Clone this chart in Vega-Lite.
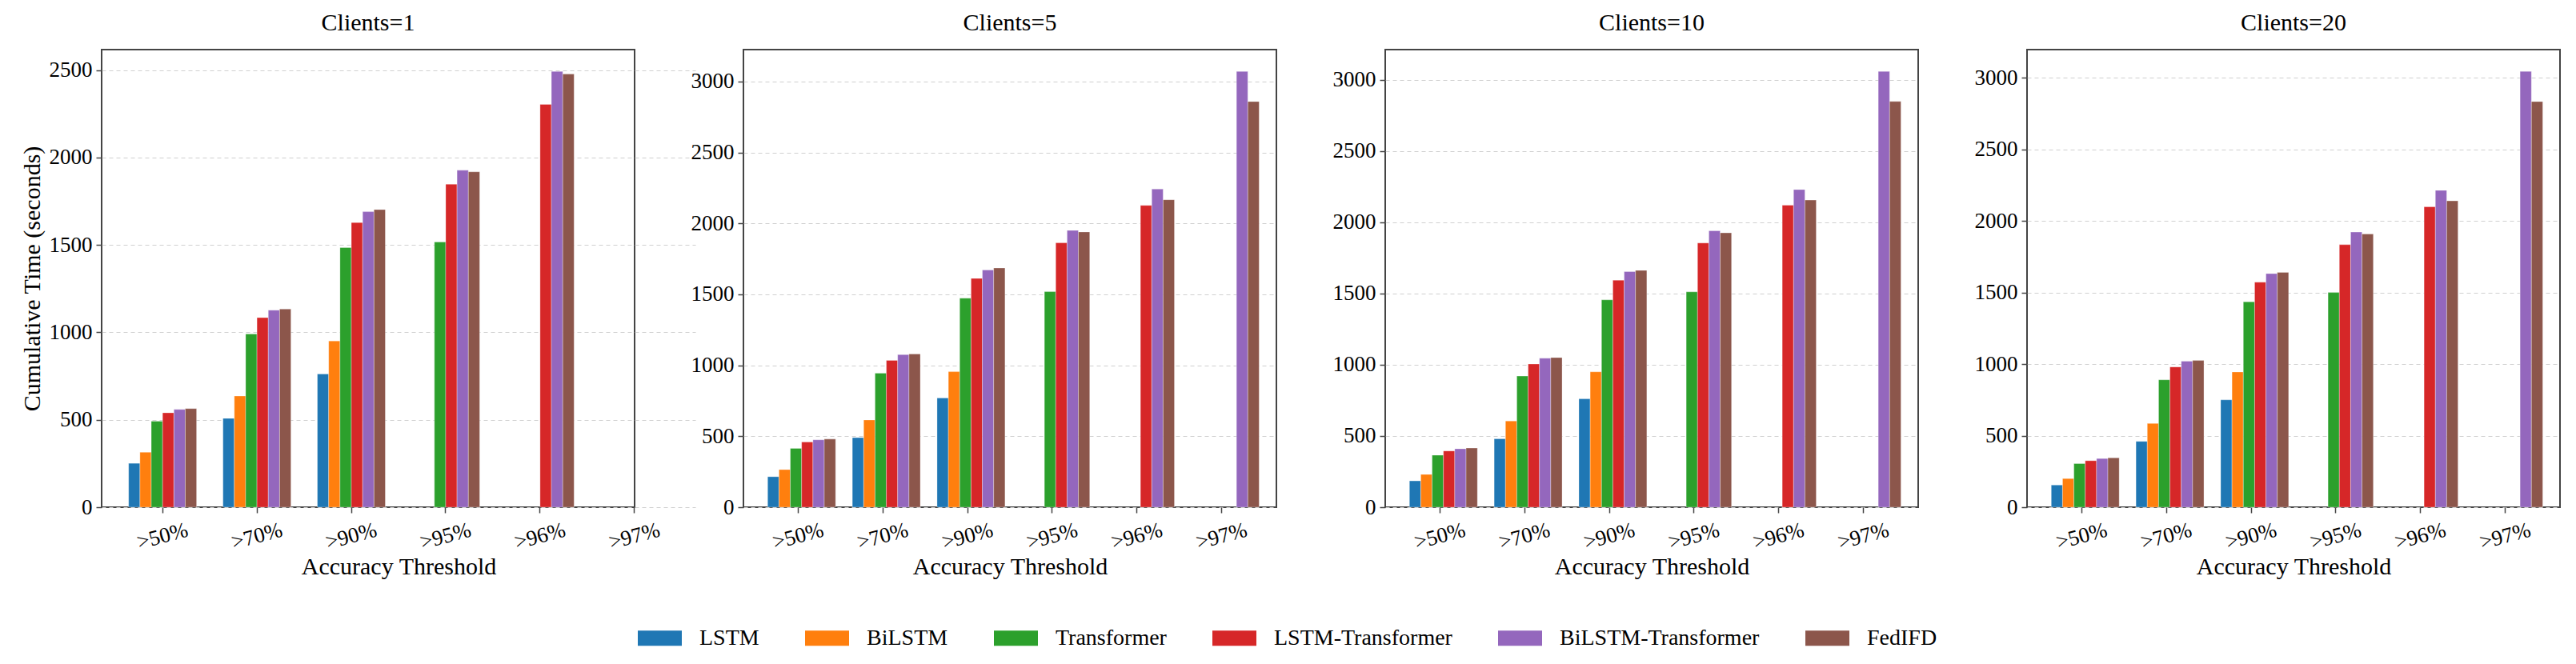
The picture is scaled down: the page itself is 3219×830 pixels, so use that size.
{
"$schema": "https://vega.github.io/schema/vega-lite/v6.json",
"background": "white",
"padding": {"left": 24, "top": 13, "right": 5, "bottom": 0},
"datasets": {"d": [
{"c":"Clients=1","t":">50%","m":"LSTM","v":251},{"c":"Clients=1","t":">50%","m":"BiLSTM","v":314},{"c":"Clients=1","t":">50%","m":"Transformer","v":492},{"c":"Clients=1","t":">50%","m":"LSTM-Transformer","v":540},{"c":"Clients=1","t":">50%","m":"BiLSTM-Transformer","v":559},{"c":"Clients=1","t":">50%","m":"FedIFD","v":564},
{"c":"Clients=1","t":">70%","m":"LSTM","v":508},{"c":"Clients=1","t":">70%","m":"BiLSTM","v":636},{"c":"Clients=1","t":">70%","m":"Transformer","v":991},{"c":"Clients=1","t":">70%","m":"LSTM-Transformer","v":1084},{"c":"Clients=1","t":">70%","m":"BiLSTM-Transformer","v":1127},{"c":"Clients=1","t":">70%","m":"FedIFD","v":1133},
{"c":"Clients=1","t":">90%","m":"LSTM","v":762},{"c":"Clients=1","t":">90%","m":"BiLSTM","v":951},{"c":"Clients=1","t":">90%","m":"Transformer","v":1485},{"c":"Clients=1","t":">90%","m":"LSTM-Transformer","v":1628},{"c":"Clients=1","t":">90%","m":"BiLSTM-Transformer","v":1690},{"c":"Clients=1","t":">90%","m":"FedIFD","v":1702},
{"c":"Clients=1","t":">95%","m":"Transformer","v":1517},{"c":"Clients=1","t":">95%","m":"LSTM-Transformer","v":1847},{"c":"Clients=1","t":">95%","m":"BiLSTM-Transformer","v":1927},{"c":"Clients=1","t":">95%","m":"FedIFD","v":1918},
{"c":"Clients=1","t":">96%","m":"LSTM-Transformer","v":2304},{"c":"Clients=1","t":">96%","m":"BiLSTM-Transformer","v":2492},{"c":"Clients=1","t":">96%","m":"FedIFD","v":2477},
{"c":"Clients=5","t":">50%","m":"LSTM","v":215},{"c":"Clients=5","t":">50%","m":"BiLSTM","v":265},{"c":"Clients=5","t":">50%","m":"Transformer","v":415},{"c":"Clients=5","t":">50%","m":"LSTM-Transformer","v":460},{"c":"Clients=5","t":">50%","m":"BiLSTM-Transformer","v":475},{"c":"Clients=5","t":">50%","m":"FedIFD","v":480},
{"c":"Clients=5","t":">70%","m":"LSTM","v":490},{"c":"Clients=5","t":">70%","m":"BiLSTM","v":615},{"c":"Clients=5","t":">70%","m":"Transformer","v":945},{"c":"Clients=5","t":">70%","m":"LSTM-Transformer","v":1035},{"c":"Clients=5","t":">70%","m":"BiLSTM-Transformer","v":1075},{"c":"Clients=5","t":">70%","m":"FedIFD","v":1080},
{"c":"Clients=5","t":">90%","m":"LSTM","v":770},{"c":"Clients=5","t":">90%","m":"BiLSTM","v":955},{"c":"Clients=5","t":">90%","m":"Transformer","v":1473},{"c":"Clients=5","t":">90%","m":"LSTM-Transformer","v":1612},{"c":"Clients=5","t":">90%","m":"BiLSTM-Transformer","v":1672},{"c":"Clients=5","t":">90%","m":"FedIFD","v":1686},
{"c":"Clients=5","t":">95%","m":"Transformer","v":1519},{"c":"Clients=5","t":">95%","m":"LSTM-Transformer","v":1863},{"c":"Clients=5","t":">95%","m":"BiLSTM-Transformer","v":1951},{"c":"Clients=5","t":">95%","m":"FedIFD","v":1940},
{"c":"Clients=5","t":">96%","m":"LSTM-Transformer","v":2127},{"c":"Clients=5","t":">96%","m":"BiLSTM-Transformer","v":2242},{"c":"Clients=5","t":">96%","m":"FedIFD","v":2167},
{"c":"Clients=5","t":">97%","m":"BiLSTM-Transformer","v":3071},{"c":"Clients=5","t":">97%","m":"FedIFD","v":2859},
{"c":"Clients=10","t":">50%","m":"LSTM","v":185},{"c":"Clients=10","t":">50%","m":"BiLSTM","v":230},{"c":"Clients=10","t":">50%","m":"Transformer","v":365},{"c":"Clients=10","t":">50%","m":"LSTM-Transformer","v":395},{"c":"Clients=10","t":">50%","m":"BiLSTM-Transformer","v":410},{"c":"Clients=10","t":">50%","m":"FedIFD","v":415},
{"c":"Clients=10","t":">70%","m":"LSTM","v":480},{"c":"Clients=10","t":">70%","m":"BiLSTM","v":605},{"c":"Clients=10","t":">70%","m":"Transformer","v":920},{"c":"Clients=10","t":">70%","m":"LSTM-Transformer","v":1005},{"c":"Clients=10","t":">70%","m":"BiLSTM-Transformer","v":1045},{"c":"Clients=10","t":">70%","m":"FedIFD","v":1050},
{"c":"Clients=10","t":">90%","m":"LSTM","v":760},{"c":"Clients=10","t":">90%","m":"BiLSTM","v":950},{"c":"Clients=10","t":">90%","m":"Transformer","v":1455},{"c":"Clients=10","t":">90%","m":"LSTM-Transformer","v":1593},{"c":"Clients=10","t":">90%","m":"BiLSTM-Transformer","v":1653},{"c":"Clients=10","t":">90%","m":"FedIFD","v":1662},
{"c":"Clients=10","t":">95%","m":"Transformer","v":1511},{"c":"Clients=10","t":">95%","m":"LSTM-Transformer","v":1854},{"c":"Clients=10","t":">95%","m":"BiLSTM-Transformer","v":1940},{"c":"Clients=10","t":">95%","m":"FedIFD","v":1925},
{"c":"Clients=10","t":">96%","m":"LSTM-Transformer","v":2119},{"c":"Clients=10","t":">96%","m":"BiLSTM-Transformer","v":2229},{"c":"Clients=10","t":">96%","m":"FedIFD","v":2155},
{"c":"Clients=10","t":">97%","m":"BiLSTM-Transformer","v":3058},{"c":"Clients=10","t":">97%","m":"FedIFD","v":2847},
{"c":"Clients=20","t":">50%","m":"LSTM","v":155},{"c":"Clients=20","t":">50%","m":"BiLSTM","v":200},{"c":"Clients=20","t":">50%","m":"Transformer","v":305},{"c":"Clients=20","t":">50%","m":"LSTM-Transformer","v":325},{"c":"Clients=20","t":">50%","m":"BiLSTM-Transformer","v":340},{"c":"Clients=20","t":">50%","m":"FedIFD","v":345},
{"c":"Clients=20","t":">70%","m":"LSTM","v":460},{"c":"Clients=20","t":">70%","m":"BiLSTM","v":585},{"c":"Clients=20","t":">70%","m":"Transformer","v":890},{"c":"Clients=20","t":">70%","m":"LSTM-Transformer","v":980},{"c":"Clients=20","t":">70%","m":"BiLSTM-Transformer","v":1020},{"c":"Clients=20","t":">70%","m":"FedIFD","v":1025},
{"c":"Clients=20","t":">90%","m":"LSTM","v":750},{"c":"Clients=20","t":">90%","m":"BiLSTM","v":945},{"c":"Clients=20","t":">90%","m":"Transformer","v":1435},{"c":"Clients=20","t":">90%","m":"LSTM-Transformer","v":1572},{"c":"Clients=20","t":">90%","m":"BiLSTM-Transformer","v":1632},{"c":"Clients=20","t":">90%","m":"FedIFD","v":1641},
{"c":"Clients=20","t":">95%","m":"Transformer","v":1500},{"c":"Clients=20","t":">95%","m":"LSTM-Transformer","v":1834},{"c":"Clients=20","t":">95%","m":"BiLSTM-Transformer","v":1922},{"c":"Clients=20","t":">95%","m":"FedIFD","v":1909},
{"c":"Clients=20","t":">96%","m":"LSTM-Transformer","v":2099},{"c":"Clients=20","t":">96%","m":"BiLSTM-Transformer","v":2214},{"c":"Clients=20","t":">96%","m":"FedIFD","v":2140},
{"c":"Clients=20","t":">97%","m":"BiLSTM-Transformer","v":3045},{"c":"Clients=20","t":">97%","m":"FedIFD","v":2834}
]},
"config": {
  "font": "Liberation Serif",
  "view": {"stroke": "#444444", "strokeWidth": 2},
  "axis": {"labelFont": "Liberation Serif", "titleFont": "Liberation Serif", "labelFontSize": 27, "titleFontSize": 30, "titleFontWeight": "normal", "labelColor": "black", "titleColor": "black", "domain": false, "tickColor": "#444444", "tickSize": 7, "tickWidth": 1.5},
  "axisY": {"grid": true, "gridDash": [5, 4], "gridColor": "#d0d0d0", "gridWidth": 1.2, "labelPadding": 5, "titlePadding": 6, "format": "d"},
  "axisX": {"grid": false, "labelAngle": -15, "labelAlign": "center", "labelBaseline": "middle", "labelPadding": 29, "titlePadding": 3},
  "title": {"font": "Liberation Serif", "fontSize": 30, "fontWeight": "normal", "color": "black", "frame": "group", "anchor": "middle", "baseline": "alphabetic", "offset": 18},
  "legend": {"orient": "none", "legendX": 670, "legendY": 708, "direction": "horizontal", "title": null, "labelFont": "Liberation Serif", "labelFontSize": 28, "labelColor": "black", "labelLimit": 0, "symbolType": "M-1,-0.345H1V0.345H-1Z", "symbolSize": 3025, "symbolStrokeWidth": 0, "labelOffset": 22, "columnPadding": 57, "padding": 0}
},
"bounds": "flush",
"spacing": 136,
"hconcat": [
{
 "title": "Clients=1", "width": 666, "height": 572,
 "data": {"name": "d"},
 "transform": [{"filter": "datum.c === 'Clients=1'"}],
 "mark": {"type": "bar", "stroke": "white", "strokeWidth": 0.8, "strokeOpacity": 0.4},
 "encoding": {
  "x": {"field": "t", "type": "nominal", "scale": {"domain": [">50%", ">70%", ">90%", ">95%", ">96%", ">97%"], "paddingInner": 0.28, "paddingOuter": 0.286, "range": [0, 742]}, "axis": {"title": "Accuracy Threshold"}},
  "xOffset": {"field": "m", "type": "nominal", "scale": {"domain": ["LSTM", "BiLSTM", "Transformer", "LSTM-Transformer", "BiLSTM-Transformer", "FedIFD"], "paddingInner": 0, "paddingOuter": 0}},
  "y": {"field": "v", "type": "quantitative", "scale": {"domain": [0, 2617], "nice": false}, "axis": {"title": "Cumulative Time (seconds)", "values": [0, 500, 1000, 1500, 2000, 2500]}},
  "color": {"field": "m", "type": "nominal", "scale": {"domain": ["LSTM", "BiLSTM", "Transformer", "LSTM-Transformer", "BiLSTM-Transformer", "FedIFD"], "range": ["#1f77b4", "#ff7f0e", "#2ca02c", "#d62728", "#9467bd", "#8c564b"]}}
 }
},
{
 "title": "Clients=5", "width": 666, "height": 572,
 "data": {"name": "d"},
 "transform": [{"filter": "datum.c === 'Clients=5'"}],
 "mark": {"type": "bar", "stroke": "white", "strokeWidth": 0.8, "strokeOpacity": 0.4},
 "encoding": {
  "x": {"field": "t", "type": "nominal", "scale": {"domain": [">50%", ">70%", ">90%", ">95%", ">96%", ">97%"], "paddingInner": 0.28, "paddingOuter": 0.286}, "axis": {"title": "Accuracy Threshold"}},
  "xOffset": {"field": "m", "type": "nominal", "scale": {"domain": ["LSTM", "BiLSTM", "Transformer", "LSTM-Transformer", "BiLSTM-Transformer", "FedIFD"], "paddingInner": 0, "paddingOuter": 0}},
  "y": {"field": "v", "type": "quantitative", "scale": {"domain": [0, 3225], "nice": false}, "axis": {"title": null, "values": [0, 500, 1000, 1500, 2000, 2500, 3000]}},
  "color": {"field": "m", "type": "nominal", "scale": {"domain": ["LSTM", "BiLSTM", "Transformer", "LSTM-Transformer", "BiLSTM-Transformer", "FedIFD"], "range": ["#1f77b4", "#ff7f0e", "#2ca02c", "#d62728", "#9467bd", "#8c564b"]}}
 }
},
{
 "title": "Clients=10", "width": 666, "height": 572,
 "data": {"name": "d"},
 "transform": [{"filter": "datum.c === 'Clients=10'"}],
 "mark": {"type": "bar", "stroke": "white", "strokeWidth": 0.8, "strokeOpacity": 0.4},
 "encoding": {
  "x": {"field": "t", "type": "nominal", "scale": {"domain": [">50%", ">70%", ">90%", ">95%", ">96%", ">97%"], "paddingInner": 0.28, "paddingOuter": 0.286}, "axis": {"title": "Accuracy Threshold"}},
  "xOffset": {"field": "m", "type": "nominal", "scale": {"domain": ["LSTM", "BiLSTM", "Transformer", "LSTM-Transformer", "BiLSTM-Transformer", "FedIFD"], "paddingInner": 0, "paddingOuter": 0}},
  "y": {"field": "v", "type": "quantitative", "scale": {"domain": [0, 3211], "nice": false}, "axis": {"title": null, "values": [0, 500, 1000, 1500, 2000, 2500, 3000]}},
  "color": {"field": "m", "type": "nominal", "scale": {"domain": ["LSTM", "BiLSTM", "Transformer", "LSTM-Transformer", "BiLSTM-Transformer", "FedIFD"], "range": ["#1f77b4", "#ff7f0e", "#2ca02c", "#d62728", "#9467bd", "#8c564b"]}}
 }
},
{
 "title": "Clients=20", "width": 666, "height": 572,
 "data": {"name": "d"},
 "transform": [{"filter": "datum.c === 'Clients=20'"}],
 "mark": {"type": "bar", "stroke": "white", "strokeWidth": 0.8, "strokeOpacity": 0.4},
 "encoding": {
  "x": {"field": "t", "type": "nominal", "scale": {"domain": [">50%", ">70%", ">90%", ">95%", ">96%", ">97%"], "paddingInner": 0.28, "paddingOuter": 0.286}, "axis": {"title": "Accuracy Threshold"}},
  "xOffset": {"field": "m", "type": "nominal", "scale": {"domain": ["LSTM", "BiLSTM", "Transformer", "LSTM-Transformer", "BiLSTM-Transformer", "FedIFD"], "paddingInner": 0, "paddingOuter": 0}},
  "y": {"field": "v", "type": "quantitative", "scale": {"domain": [0, 3197], "nice": false}, "axis": {"title": null, "values": [0, 500, 1000, 1500, 2000, 2500, 3000]}},
  "color": {"field": "m", "type": "nominal", "scale": {"domain": ["LSTM", "BiLSTM", "Transformer", "LSTM-Transformer", "BiLSTM-Transformer", "FedIFD"], "range": ["#1f77b4", "#ff7f0e", "#2ca02c", "#d62728", "#9467bd", "#8c564b"]}}
 }
}
]
}
